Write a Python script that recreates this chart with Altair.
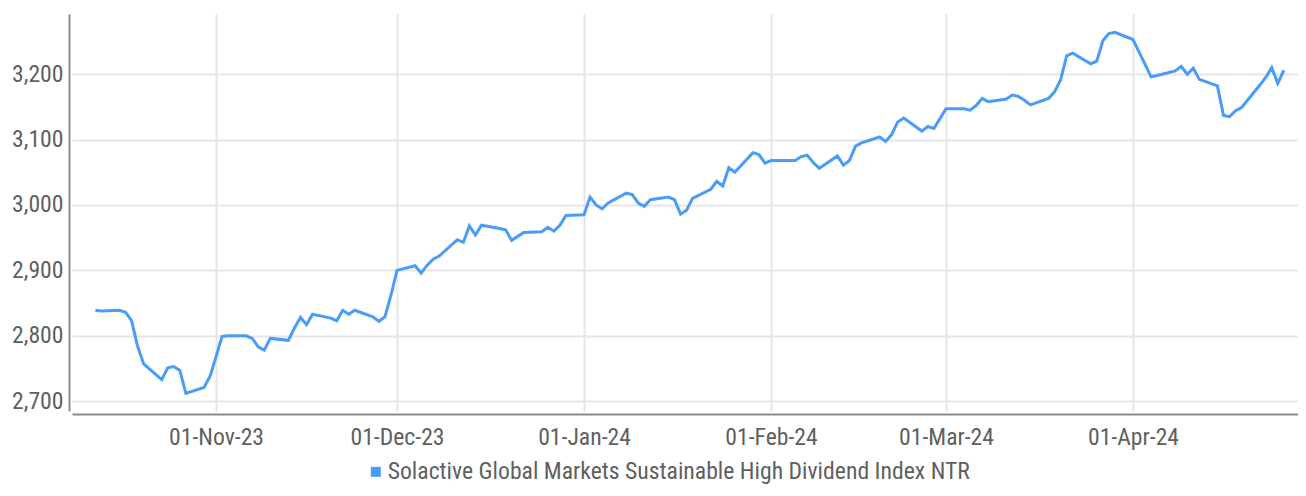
import altair as alt
import pandas as pd

dates = [
    "2023-10-12", "2023-10-13", "2023-10-16", "2023-10-17", "2023-10-18", "2023-10-19", "2023-10-20",
    "2023-10-23", "2023-10-24", "2023-10-25", "2023-10-26", "2023-10-27",
    "2023-10-30", "2023-10-31", "2023-11-01", "2023-11-02", "2023-11-03",
    "2023-11-06", "2023-11-07", "2023-11-08", "2023-11-09", "2023-11-10",
    "2023-11-13", "2023-11-14", "2023-11-15", "2023-11-16", "2023-11-17",
    "2023-11-20", "2023-11-21", "2023-11-22", "2023-11-23", "2023-11-24",
    "2023-11-27", "2023-11-28", "2023-11-29", "2023-11-30", "2023-12-01",
    "2023-12-04", "2023-12-05", "2023-12-06", "2023-12-07", "2023-12-08",
    "2023-12-11", "2023-12-12", "2023-12-13", "2023-12-14", "2023-12-15",
    "2023-12-18", "2023-12-19", "2023-12-20", "2023-12-21", "2023-12-22",
    "2023-12-25", "2023-12-26", "2023-12-27", "2023-12-28", "2023-12-29",
    "2024-01-01", "2024-01-02", "2024-01-03", "2024-01-04", "2024-01-05",
    "2024-01-08", "2024-01-09", "2024-01-10", "2024-01-11", "2024-01-12",
    "2024-01-15", "2024-01-16", "2024-01-17", "2024-01-18", "2024-01-19",
    "2024-01-22", "2024-01-23", "2024-01-24", "2024-01-25", "2024-01-26",
    "2024-01-29", "2024-01-30", "2024-01-31", "2024-02-01", "2024-02-02",
    "2024-02-05", "2024-02-06", "2024-02-07", "2024-02-08", "2024-02-09",
    "2024-02-12", "2024-02-13", "2024-02-14", "2024-02-15", "2024-02-16",
    "2024-02-19", "2024-02-20", "2024-02-21", "2024-02-22", "2024-02-23",
    "2024-02-26", "2024-02-27", "2024-02-28", "2024-02-29", "2024-03-01",
    "2024-03-04", "2024-03-05", "2024-03-06", "2024-03-07", "2024-03-08",
    "2024-03-11", "2024-03-12", "2024-03-13", "2024-03-14", "2024-03-15",
    "2024-03-18", "2024-03-19", "2024-03-20", "2024-03-21", "2024-03-22",
    "2024-03-25", "2024-03-26", "2024-03-27", "2024-03-28", "2024-03-29",
    "2024-04-01", "2024-04-02", "2024-04-03", "2024-04-04", "2024-04-05",
    "2024-04-08", "2024-04-09", "2024-04-10", "2024-04-11", "2024-04-12",
    "2024-04-15", "2024-04-16", "2024-04-17", "2024-04-18", "2024-04-19",
    "2024-04-22", "2024-04-23", "2024-04-24", "2024-04-25", "2024-04-26",
]

values = [
    2839, 2838, 2839, 2836, 2823, 2784, 2757,
    2733, 2751, 2753, 2747, 2712,
    2721, 2738, 2768, 2799, 2800,
    2800, 2796, 2783, 2778, 2796,
    2793, 2812, 2828, 2817, 2833,
    2827, 2823, 2839, 2833, 2839,
    2829, 2822, 2829, 2862, 2900,
    2907, 2896, 2908, 2917, 2922,
    2947, 2943, 2968, 2954, 2969,
    2964, 2962, 2946, 2952, 2958,
    2959, 2966, 2960, 2969, 2984,
    2985, 3012, 3000, 2994, 3003,
    3018, 3016, 3003, 2998, 3008,
    3012, 3008, 2986, 2992, 3010,
    3024, 3036, 3029, 3057, 3050,
    3080, 3077, 3064, 3068, 3068,
    3068, 3074, 3076, 3065, 3056,
    3075, 3061, 3068, 3090, 3095,
    3104, 3097, 3108, 3127, 3133,
    3113, 3120, 3117, 3132, 3147,
    3147, 3145, 3152, 3163, 3158,
    3162, 3168, 3166, 3160, 3153,
    3163, 3173, 3191, 3228, 3232,
    3216, 3220, 3251, 3262, 3264,
    3253, 3234, 3215, 3196, 3198,
    3205, 3212, 3200, 3209, 3192,
    3182, 3137, 3135, 3144, 3149,
    3183, 3195, 3210, 3186, 3206,
]

series_name = "Solactive Global Markets Sustainable High Dividend Index NTR"
x_ticks = ["2023-11-01", "2023-12-01", "2024-01-01", "2024-02-01", "2024-03-01", "2024-04-01"]
y_ticks = [2700, 2800, 2900, 3000, 3100, 3200]
x_domain = ["2023-10-08 03:00", "2024-04-28 08:30"]
y_domain = [2685, 3292]


def ms(s):
    return int(pd.Timestamp(s, tz="UTC").value // 10**6)


df = pd.DataFrame({"date": dates, "value": values, "series": series_name})

FONT = "Roboto Condensed, Liberation Sans Narrow, DejaVu Sans Condensed, Roboto"
TXT = "#5f5f5f"
BLUE = "#4a9cf6"

chart = (
    alt.Chart(df)
    .mark_line(strokeWidth=3, interpolate="linear")
    .encode(
        x=alt.X(
            "date:T",
            scale=alt.Scale(type="utc", domain=[ms(d) for d in x_domain]),
            axis=alt.Axis(
                title=None,
                values=[ms(d) for d in x_ticks],
                labelExpr="utcFormat(datum.value, '%d-%b-%y')",
                grid=True,
                gridColor="#e6e6e6",
                gridWidth=2,
                ticks=False,
                domainColor="#8c8c8c",
                domainWidth=2,
                offset=3,
                labelPadding=11,
                labelFont=FONT,
                labelFontSize=23.7,
                labelColor=TXT,
            ),
        ),
        y=alt.Y(
            "value:Q",
            scale=alt.Scale(domain=y_domain, nice=False, zero=False),
            axis=alt.Axis(
                title=None,
                values=y_ticks,
                format=",d",
                grid=True,
                gridColor="#e6e6e6",
                gridWidth=2,
                ticks=False,
                domainColor="#8c8c8c",
                domainWidth=2,
                offset=3,
                labelPadding=6,
                labelFont=FONT,
                labelFontSize=23.7,
                labelColor=TXT,
            ),
        ),
        color=alt.Color(
            "series:N",
            scale=alt.Scale(range=[BLUE]),
            legend=alt.Legend(
                title=None,
                orient="none",
                legendX=292,
                legendY=446,
                symbolType="square",
                symbolSize=100,
                symbolStrokeWidth=0,
                symbolFillColor=BLUE,
                labelFont=FONT,
                labelFontSize=23.7,
                labelColor=TXT,
                labelLimit=1000,
                labelOffset=0,
            ),
        ),
    )
    .properties(
        width=1226,
        height=397,
        autosize=alt.AutoSizeParams(type="none"),
        padding={"left": 64, "top": 6, "right": 0, "bottom": 77},
    )
    .configure_view(stroke=None)
)

chart.save("out.html", embed_options={"renderer": "svg", "actions": False})
